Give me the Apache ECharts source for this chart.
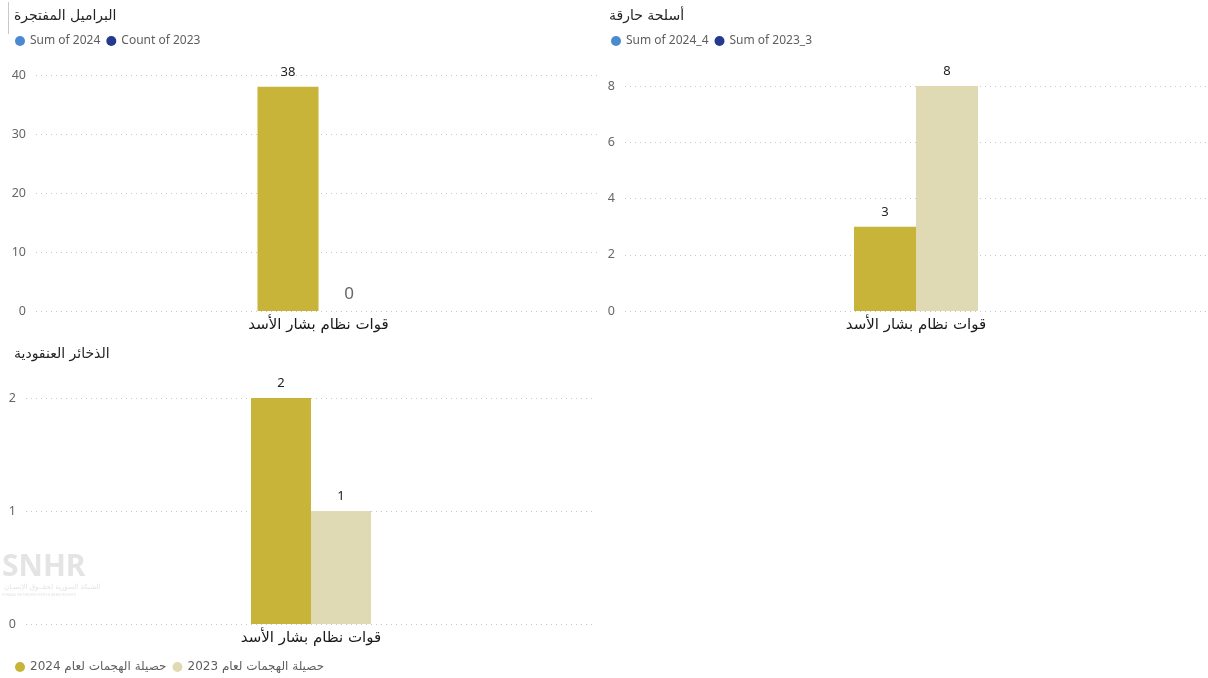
<!DOCTYPE html>
<html><head><meta charset="utf-8">
<script src="https://cdn.jsdelivr.net/npm/echarts@6/dist/echarts.min.js"></script>
<style>html,body{margin:0;padding:0;background:#fff}#c{width:1208px;height:678px}</style>
</head><body><div id="c"></div>
<script>
const categories = ['قوات نظام بشار الأسد'];
const titles = ['البراميل المفتجرة', 'أسلحة حارقة', 'الذخائر العنقودية'];
const c1Names = ['Sum of 2024', 'Count of 2023'];
const c1Values2024 = [38];
const c1Values2023 = [0];
const c2Names = ['Sum of 2024_4', 'Sum of 2023_3'];
const c2Values2024 = [3];
const c2Values2023 = [8];
const c3Names = ['حصيلة الهجمات لعام 2024', 'حصيلة الهجمات لعام 2023'];
const c3Values2024 = [2];
const c3Values2023 = [1];
const yTicks1 = {min: 0, max: 40, interval: 10};
const yTicks2 = {min: 0, max: 8, interval: 2};
const yTicks3 = {min: 0, max: 2, interval: 1};

const GOLD = '#c8b438', BEIGE = '#e0dab4', LBLUE = '#4a8ad0', DBLUE = '#26388f';
const FONT = '"Noto Sans", "DejaVu Sans", sans-serif';
const AFONT = '"DejaVu Sans", "Noto Sans", sans-serif';

function yAxis(i, t) {
  return {gridIndex: i, type: 'value', min: t.min, max: t.max, interval: t.interval,
    axisLine: {show: false}, axisTick: {show: false},
    axisLabel: {color: '#666', fontSize: 12.5, fontFamily: FONT, margin: 10},
    splitLine: {lineStyle: {type: [1, 4], color: '#c8c8c8'}}};
}
function xAxis(i) {
  return {gridIndex: i, type: 'category', data: categories,
    axisLine: {show: false}, axisTick: {show: false},
    axisLabel: {color: '#1a1a1a', fontSize: 15, fontFamily: AFONT, margin: 7}};
}
function bar(name, i, data, color, w, lblColor, lblSize) {
  return {name, type: 'bar', xAxisIndex: i, yAxisIndex: i, data, barWidth: w, barGap: '0%',
    itemStyle: {color},
    label: {show: true, position: 'top', distance: 8, color: '#222', fontSize: 13, fontFamily: FONT,
      ...(lblColor ? {color: lblColor} : {}), ...(lblSize ? {fontSize: lblSize} : {})}};
}
const titleStyle = {fontSize: 14, fontWeight: 'normal', color: '#252423', fontFamily: AFONT};
const legendText = {color: '#605e5c', fontSize: 12, fontFamily: FONT};

const chart = echarts.init(document.getElementById('c'));
chart.setOption({
  animation: false,
  title: [
    {text: titles[0], left: 9, top: 4, textStyle: titleStyle},
    {text: titles[1], left: 604, top: 4, textStyle: titleStyle},
    {text: titles[2], left: 9, top: 342, textStyle: titleStyle}
  ],
  legend: [
    {left: 10, top: 30, icon: 'circle', itemWidth: 10, itemHeight: 10, itemGap: 6, textStyle: legendText,
      data: [{name: c1Names[0], itemStyle: {color: LBLUE}}, {name: c1Names[1], itemStyle: {color: DBLUE}}]},
    {left: 606, top: 30, icon: 'circle', itemWidth: 10, itemHeight: 10, itemGap: 6, textStyle: legendText,
      data: [{name: c2Names[0], itemStyle: {color: LBLUE}}, {name: c2Names[1], itemStyle: {color: DBLUE}}]},
    {left: 10, top: 656, icon: 'circle', itemWidth: 10, itemHeight: 10, itemGap: 6,
      textStyle: {...legendText, fontFamily: AFONT},
      data: [c3Names[0], c3Names[1]]}
  ],
  grid: [
    {left: 36, width: 565, top: 75, height: 236},
    {left: 625, width: 582, top: 86, height: 225},
    {left: 26, width: 570, top: 398, height: 226}
  ],
  xAxis: [xAxis(0), xAxis(1), xAxis(2)],
  yAxis: [yAxis(0, yTicks1), yAxis(1, yTicks2), yAxis(2, yTicks3)],
  series: [
    bar(c1Names[0], 0, c1Values2024, GOLD, 61),
    bar(c1Names[1], 0, c1Values2023, GOLD, 61, '#666', 17),
    bar(c2Names[0], 1, c2Values2024, GOLD, 62),
    bar(c2Names[1], 1, c2Values2023, BEIGE, 62),
    bar(c3Names[0], 2, c3Values2024, GOLD, 60),
    bar(c3Names[1], 2, c3Values2023, BEIGE, 60)
  ],
  graphic: [
    {type: 'line', shape: {x1: 8.5, y1: 2, x2: 8.5, y2: 34}, style: {stroke: '#c8c8c8', lineWidth: 1}},
    {type: 'text', left: 2, top: 552, style: {text: 'SNHR', fontSize: 30, fontWeight: 'bold', fill: '#e4e4e4', fontFamily: FONT}},
    {type: 'text', left: 4, top: 584, style: {text: 'الشبكة السورية لحقــوق الإنسـان', fontSize: 7, fill: '#e4e4e4', fontFamily: AFONT}},
    {type: 'text', left: 2, top: 593, style: {text: 'SYRIAN NETWORK FOR HUMAN RIGHTS', fontSize: 4, fill: '#e4e4e4', fontFamily: FONT}}
  ]
});
</script></body></html>
